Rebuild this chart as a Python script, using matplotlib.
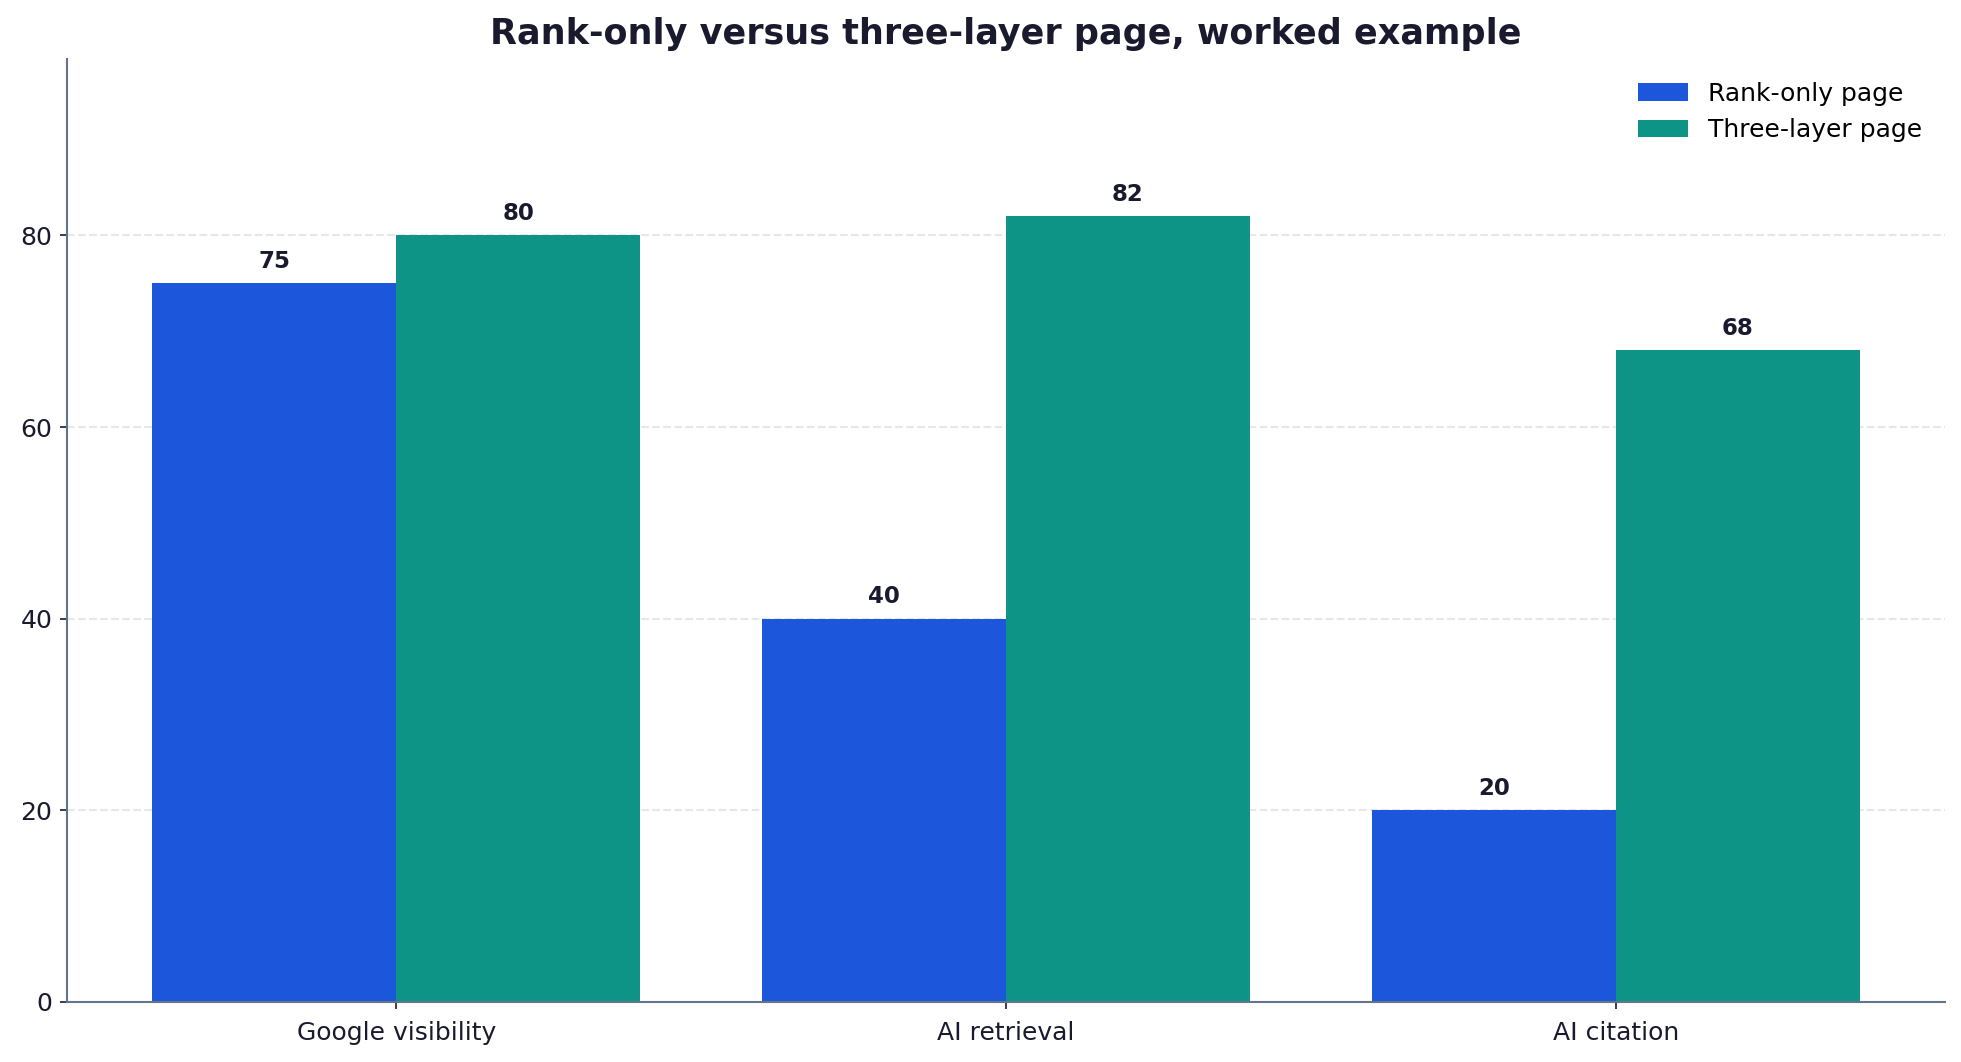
import matplotlib.pyplot as plt
import numpy as np

# values
categories = ['Google visibility', 'AI retrieval', 'AI citation']
series_names = ['Rank-only page', 'Three-layer page']
rank_only = [75, 40, 20]
three_layer = [80, 82, 68]

colors = {'Rank-only page': '#1B56DB', 'Three-layer page': '#0E9486'}
text_color = '#1a1a2e'
spine_color = '#64748b'

fig, ax = plt.subplots(figsize=(1961 / 150, 1062 / 150), dpi=150)
fig.subplots_adjust(left=0.0342, right=0.9918, top=0.9444, bottom=0.0565)

x = np.arange(len(categories))
bar_width = 0.4

for i, (name, vals) in enumerate(zip(series_names, [rank_only, three_layer])):
    offset = x + (i - 0.5) * bar_width
    bars = ax.bar(offset, vals, width=bar_width, label=name, color=colors[name], zorder=2)
    # value labels above each bar
    for bar in bars:
        h = bar.get_height()
        ax.annotate(f'{h:.0f}', (bar.get_x() + bar.get_width() / 2, h),
                    xytext=(0, 5), textcoords='offset points',
                    ha='center', va='bottom', fontsize=11, fontweight='bold',
                    color=text_color)

ax.set_ylim(0, max(three_layer + rank_only) * 1.2)
ax.set_xticks(x)
ax.set_xticklabels(categories)
ax.tick_params(axis='both', labelsize=12, colors=text_color)
ax.tick_params(axis='x', pad=5.5)

ax.yaxis.grid(True, linestyle='--', color='#e5e7eb', linewidth=1.0, zorder=0)
ax.set_axisbelow(True)

for side in ['top', 'right']:
    ax.spines[side].set_visible(False)
for side in ['left', 'bottom']:
    ax.spines[side].set_color(spine_color)
    ax.spines[side].set_linewidth(1.0)

ax.set_title('Rank-only versus three-layer page, worked example',
             fontsize=16.8, fontweight='bold', color=text_color, pad=7)
ax.legend(loc='upper right', frameon=False, fontsize=12)

plt.savefig('out.png', dpi=150)
plt.close()
